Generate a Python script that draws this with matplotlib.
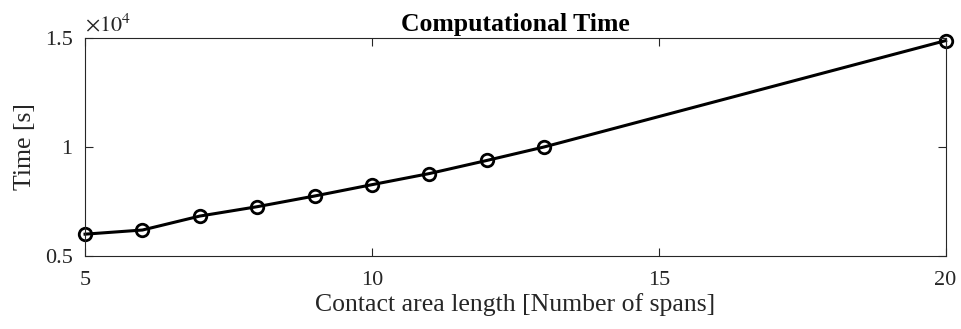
import numpy as np
import matplotlib.pyplot as plt
from matplotlib.ticker import FuncFormatter

plt.rcParams['font.family'] = ['Liberation Serif', 'DejaVu Serif']
plt.rcParams['mathtext.fontset'] = 'stix'

# contact area length vs. run time
spans = [5, 6, 7, 8, 9, 10, 11, 12, 13, 20]
time_s = [6000, 6190, 6830, 7260, 7750, 8270, 8780, 9380, 10000, 14880]

axis_color = '#262626'

fig = plt.figure(figsize=(9.61, 3.29), dpi=100)
ax = fig.add_axes([0.0885, 0.222, 0.8955, 0.6625])

ax.plot(spans, time_s, color='black', linewidth=2.2, marker='o',
        markersize=9, markerfacecolor='none', markeredgewidth=2.0, clip_on=False)

ax.set_xlim(5, 20)
ax.set_ylim(5000, 15000)
ax.set_xticks([5, 10, 15, 20])
ax.set_yticks([5000, 10000, 15000])
ax.yaxis.set_major_formatter(FuncFormatter(lambda v, p: '%g' % (v / 1e4)))

ax.tick_params(direction='in', top=True, right=True, length=6, width=0.8,
               colors=axis_color, labelsize=16)
ax.tick_params(axis='x', pad=11)
ax.tick_params(axis='y', pad=9)
for s in ax.spines.values():
    s.set_color(axis_color)
    s.set_linewidth(0.8)

ax.text(0.0, 1.005, r'$\times10^{4}$', transform=ax.transAxes, fontsize=16,
        color=axis_color, ha='left', va='bottom')

ax.set_title('Computational Time', fontsize=18.5, fontweight='bold', pad=5)
ax.set_xlabel('Contact area length [Number of spans]', fontsize=18.5, color=axis_color, labelpad=2)
ax.set_ylabel('Time [s]', fontsize=18.5, color=axis_color, labelpad=6)

fig.savefig('out.png', dpi=100)
